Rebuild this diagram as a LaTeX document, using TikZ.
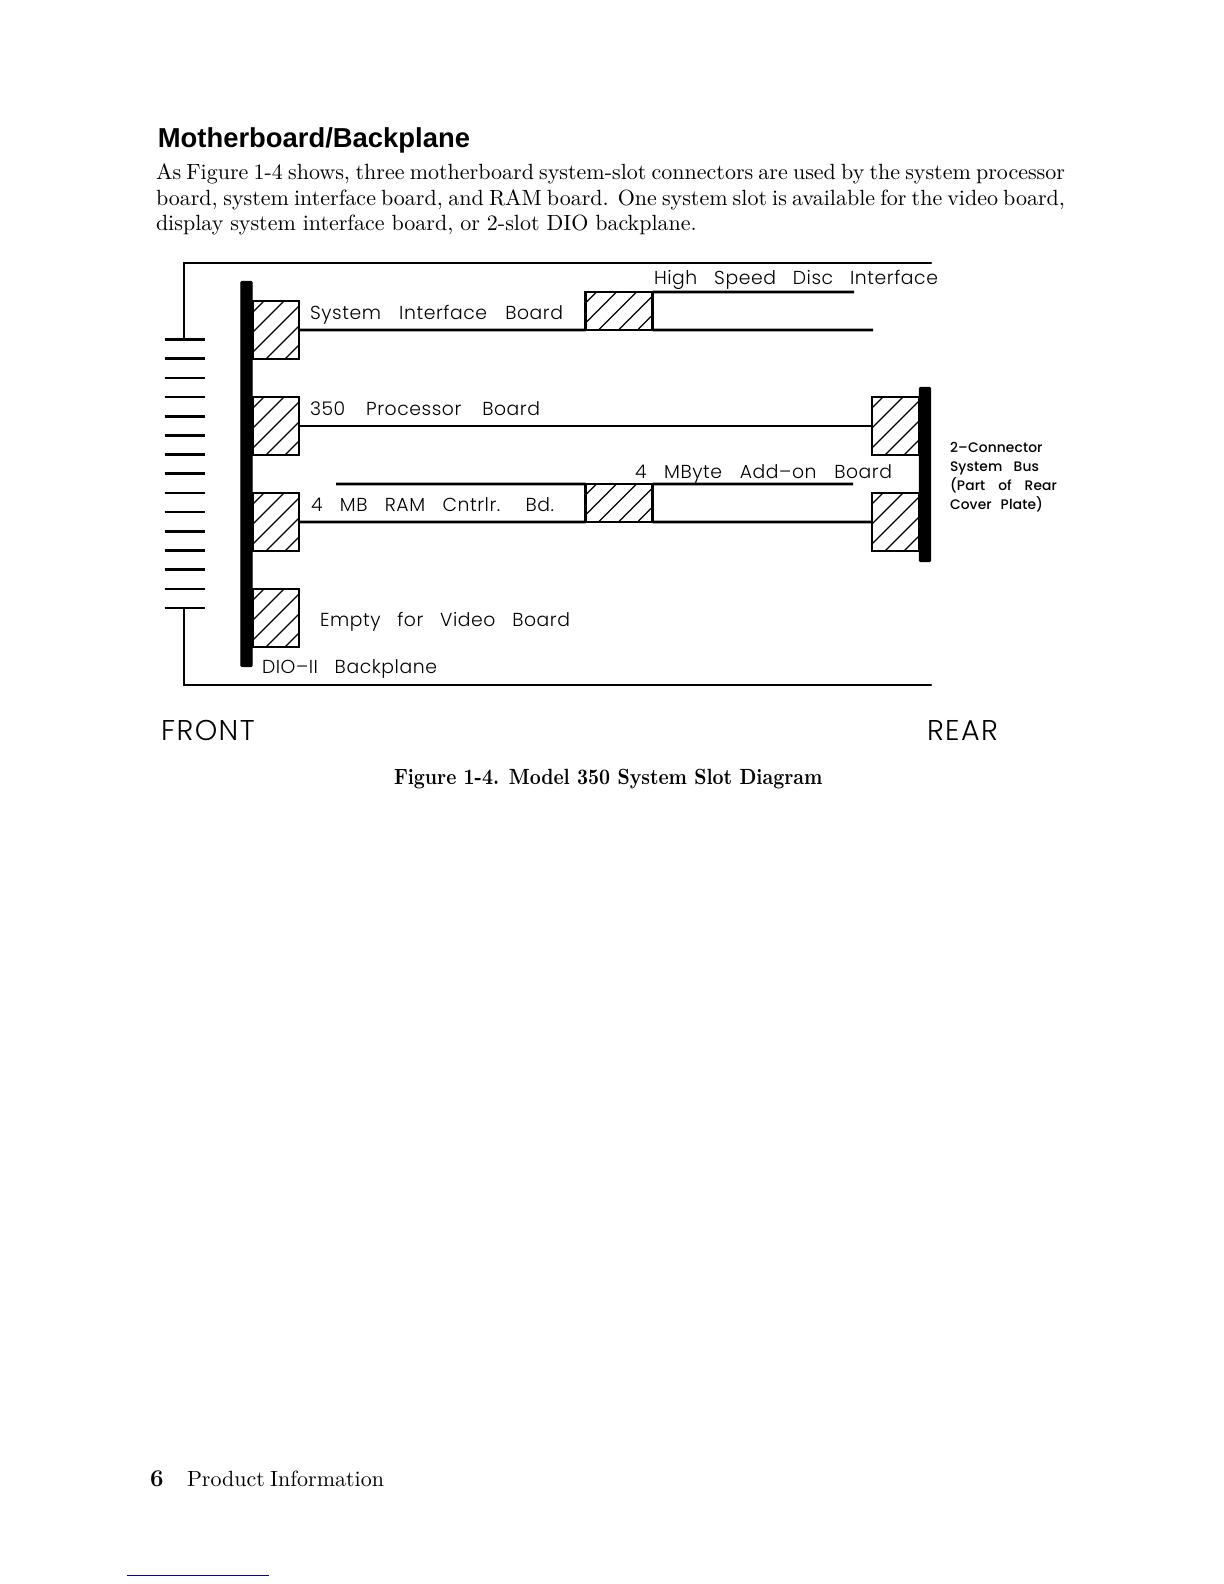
\documentclass[tikz,border=0pt]{standalone}
\usepackage{fontspec}
\setmainfont{Latin Modern Roman}
\newfontfamily\headf{Liberation Sans}[BoldFont=Liberation Sans Bold]
\newfontfamily\capf{Latin Modern Roman}[BoldFeatures={FakeStretch=0.87}]
\newfontfamily\cadf{Poppins Light}[LetterSpace=3]
\newfontfamily\cadbigf{Poppins Light}[LetterSpace=5]
\newfontfamily\cadb{Poppins Medium}[LetterSpace=1]
\newcommand{\fitbox}[2]{\makebox[#1][s]{#2}}
\tikzset{
  x=0.5bp,y=-0.5bp,
  cad/.style={anchor=base west,inner sep=0pt,outer sep=0pt,font=\cadf\fontsize{9.4bp}{11bp}\selectfont},
  cadbig/.style={anchor=base west,inner sep=0pt,outer sep=0pt,font=\cadbigf\fontsize{14.3bp}{16bp}\selectfont},
  cadsmall/.style={anchor=base west,inner sep=0pt,outer sep=0pt,font=\cadb\fontsize{6.9bp}{8bp}\selectfont},
  body/.style={anchor=base west,inner sep=0pt,outer sep=0pt,font=\fontsize{11bp}{13bp}\selectfont},
  wall/.style={line width=1.2bp,line cap=round},
  tick/.style={line width=1.3bp},
  board/.style={line width=1.35bp},
  bar/.style={draw=black,fill=black,line width=0.6bp,rounded corners=0.5bp,minimum width=5.6bp,inner sep=0pt,outer sep=0pt},
  hatched/.style={draw=black,line width=1.3bp,inner sep=0pt,outer sep=0pt,
    path picture={
      \foreach \d in {11,31,51,71,90}
        \draw[line width=0.6bp] ([shift={(\d,0)}]path picture bounding box.north west) -- ++(-90,90);
    }},
  slot/.style={hatched,minimum width=23bp,minimum height=29bp},
  rearslot/.style={hatched,minimum width=23.5bp,minimum height=29bp},
  mezz/.style={hatched,minimum width=33.5bp,minimum height=19bp},
}
\begin{document}
\begin{tikzpicture}
\useasboundingbox (0,0) rectangle (1224,1584);
% page text
\node[anchor=base west,inner sep=0pt,font=\headf\bfseries\fontsize{13.7bp}{16bp}\selectfont] (title) at (157.5,147) {Motherboard/Backplane};
\node[body] (l1) at (156,179.5) {\fitbox{454.5bp}{As Figure 1-4 shows, three motherboard system-slot connectors are used by the system processor}};
\node[body] (l2) at (156,205) {\fitbox{454.5bp}{board, system interface board, and RAM board. One system slot is available for the video board,}};
\node[body] (l3) at (156,230.5) {\fitbox{270.4bp}{display system interface board, or 2-slot DIO backplane.}};
\node[body,font=\capf\bfseries\fontsize{11bp}{13bp}\selectfont] (cap) at (394,784) {Figure 1-4. Model 350 System Slot Diagram};
\node[body,font=\bfseries\fontsize{12bp}{13bp}\selectfont] (pg) at (150,1486) {6};
\node[body] (foot) at (187,1486) {\fitbox{98.5bp}{Product Information}};
% backplane and rear bar
\node[bar,minimum height=192.5bp] (bp) at (246.5,474) {};
\node[bar,minimum height=87bp] (rear) at (925,474.5) {};
% slots
\node[slot] (s1) at (276,330) {};
\node[slot] (s2) at (276,426) {};
\node[slot] (s3) at (276,522) {};
\node[slot] (s4) at (276,618) {};
\node[rearslot] (r2) at (895.5,426) {};
\node[rearslot] (r3) at (895.5,522) {};
\node[mezz] (m1) at (619,311) {};
\node[mezz] (m2) at (619,503) {};
% free ends
\coordinate (b1end) at (873,330);
\coordinate (h1end) at (854,292);
\coordinate (a1start) at (336,484);
\coordinate (a1end) at (853,484);
% boards
\draw[board] (s1.east) -- (m1.south west);
\draw[board] (m1.south east) -- (b1end);
\draw[board] (m1.north east) -- (h1end);
\draw[board] (s2.east) -- (r2.west);
\draw[board] (s3.east) -- (m2.south west);
\draw[board] (m2.south east) -- (r3.west);
\draw[board] (a1start) -- (m2.north west);
\draw[board] (m2.north east) -- (a1end);
% enclosure
\coordinate (ctop) at (184,339.5);
\coordinate (cbot) at (184,608);
\coordinate (ctl) at (184,263);
\coordinate (cbl) at (184,685);
\coordinate (ctr) at (931,263);
\coordinate (cbr) at (931,685);
\draw[wall] (ctop) -- (ctl) -- (ctr);
\draw[wall] (cbot) -- (cbl) -- (cbr);
\foreach \i in {0,...,14}
  \draw[tick] (164.5,339.5+19.18*\i) -- (205,339.5+19.18*\i);
% labels
\node[cad] (t1) at (654,284) {\fitbox{142bp}{High \ Speed \ Disc \ Interface}};
\node[cad] (t2) at (310,319) {\fitbox{126.5bp}{System \ Interface \ Board}};
\node[cad] (t3) at (310,415) {\fitbox{115bp}{350 \ Processor \ Board}};
\node[cad] (t4) at (311,511) {\fitbox{121.5bp}{4 \ MB \ RAM \ Cntrlr. \ Bd.}};
\node[cad] (t5) at (635,478) {\fitbox{128.5bp}{4 \ MByte \ Add–on \ Board}};
\node[cad] (t6) at (320,626) {\fitbox{125bp}{Empty \ for \ Video \ Board}};
\node[cad] (t7) at (262,673) {\fitbox{87.5bp}{DIO–II \ Backplane}};
\node[cadbig] (t8) at (161,740) {FRONT};
\node[cadbig] (t9) at (927,740) {REAR};
\node[cadsmall] (n1) at (950,452) {2–Connector};
\node[cadsmall] (n2) at (950,471) {\fitbox{44.5bp}{System \ Bus}};
\node[cadsmall] (n3) at (950,490) {\fitbox{53.5bp}{(Part \ of \ Rear}};
\node[cadsmall] (n4) at (950,509) {\fitbox{46.5bp}{Cover \ Plate)}};
\draw[line width=0.5bp,draw=blue!70!black] (127,1575) -- (269,1575);
\end{tikzpicture}
\end{document}
